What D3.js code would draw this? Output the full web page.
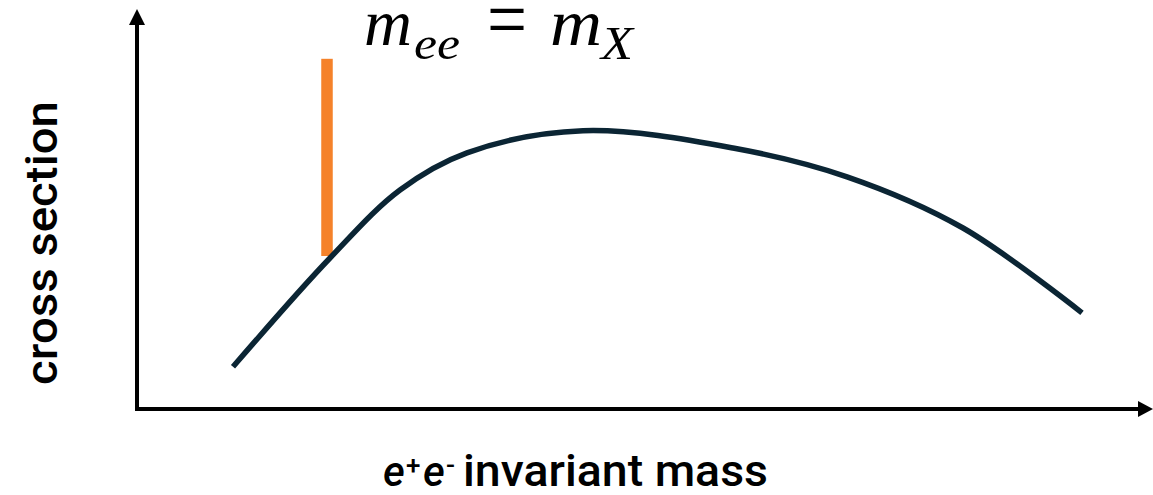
<!DOCTYPE html>
<html>
<head>
<meta charset="utf-8">
<script src="https://cdn.jsdelivr.net/npm/d3@7"></script>
<style>
  html, body { margin: 0; padding: 0; background: #ffffff; }
  svg { display: block; }
</style>
</head>
<body>
<svg id="chart" width="1153" height="495"></svg>
<script>
// Sketch of the e+e- invariant-mass spectrum with a narrow resonance at m_X.
// Mass values (arbitrary units)
const massValues = [0.97, 1.94, 2.64, 3.31, 4.47, 5.97, 7.11, 8.27, 9.46];
// Cross section at each mass (arbitrary units)
const crossSection = [1.03, 3.75, 5.45, 6.38, 6.93, 6.50, 5.78, 4.50, 2.38];
// Resonance marker: mass and the span of the peak
const resonanceMass = [1.91];
const resonanceLow = [3.80];
const resonanceHigh = [8.73];

const svg = d3.select("#chart");

const x = d3.scaleLinear().domain([0, 10]).range([136, 1136]);
const y = d3.scaleLinear().domain([0, 10]).range([408, 8]);

const axisColor = "#000000";
const curveColor = "#0b2534";
const peakColor = "#f5822a";

// Axes with arrowheads
const axisY = y(0) + 1;
svg.append("line")
  .attr("x1", x(0) + 1).attr("y1", axisY)
  .attr("x2", 1140).attr("y2", axisY)
  .attr("stroke", axisColor).attr("stroke-width", 4);
svg.append("path")
  .attr("d", `M1138,${axisY - 8} L1153,${axisY} L1138,${axisY + 8} Z`)
  .attr("fill", axisColor);

const axisX = x(0) + 1;
svg.append("line")
  .attr("x1", axisX).attr("y1", axisY + 2)
  .attr("x2", axisX).attr("y2", 22)
  .attr("stroke", axisColor).attr("stroke-width", 4);
svg.append("path")
  .attr("d", `M${axisX - 8},25 L${axisX},9 L${axisX + 8},25 Z`)
  .attr("fill", axisColor);

// Resonance bar
svg.selectAll("rect.peak")
  .data(resonanceMass)
  .join("rect")
  .attr("class", "peak")
  .attr("x", d => x(d) - 5.75)
  .attr("width", 11.5)
  .attr("y", (d, i) => y(resonanceHigh[i]))
  .attr("height", (d, i) => y(resonanceLow[i]) - y(resonanceHigh[i]))
  .attr("fill", peakColor);

// Continuum curve
const pts = massValues.map((m, i) => [m, crossSection[i]]);
const line = d3.line()
  .x(d => x(d[0]))
  .y(d => y(d[1]))
  .curve(d3.curveCatmullRom.alpha(0.5));
svg.append("path")
  .datum(pts)
  .attr("d", line)
  .attr("fill", "none")
  .attr("stroke", curveColor)
  .attr("stroke-width", 5.5)
  .attr("stroke-linecap", "butt");

// Resonance label: m_ee = m_X
const serif = "'Liberation Serif', 'Times New Roman', serif";
const lbl = svg.append("g").attr("font-family", serif).attr("fill", "#000");
lbl.append("text").attr("x", 364).attr("y", 45).attr("font-size", 66)
  .attr("font-style", "italic").attr("textLength", 48).attr("lengthAdjust", "spacingAndGlyphs").text("m");
lbl.append("text").attr("x", 414).attr("y", 59).attr("font-size", 46)
  .attr("font-style", "italic").attr("textLength", 46).attr("lengthAdjust", "spacingAndGlyphs").text("ee");
lbl.append("text").attr("x", 487).attr("y", 48).attr("font-size", 84)
  .attr("textLength", 40).attr("lengthAdjust", "spacingAndGlyphs").text("=");
lbl.append("text").attr("x", 550).attr("y", 45).attr("font-size", 66)
  .attr("font-style", "italic").attr("textLength", 52).attr("lengthAdjust", "spacingAndGlyphs").text("m");
lbl.append("text").attr("x", 601).attr("y", 59).attr("font-size", 46)
  .attr("font-style", "italic").attr("textLength", 32).attr("lengthAdjust", "spacingAndGlyphs").text("X");

// Axis titles
const sans = "Roboto, 'Liberation Sans', Arial, sans-serif";
svg.append("text")
  .attr("transform", "translate(57,243) rotate(-90)")
  .attr("text-anchor", "middle")
  .attr("font-family", sans)
  .attr("font-weight", 500)
  .attr("font-size", 44)
  .attr("textLength", 284)
  .attr("lengthAdjust", "spacingAndGlyphs")
  .attr("fill", "#000")
  .text("cross section");

const xl = svg.append("g").attr("font-family", sans).attr("font-weight", 500).attr("fill", "#000");
xl.append("text").attr("x", 383).attr("y", 486).attr("font-size", 42)
  .attr("font-style", "italic").text("e");
xl.append("text").attr("x", 406).attr("y", 474).attr("font-size", 26).text("+");
xl.append("text").attr("x", 423).attr("y", 486).attr("font-size", 42)
  .attr("font-style", "italic").text("e");
xl.append("text").attr("x", 446).attr("y", 474).attr("font-size", 26)
  .attr("textLength", 9).attr("lengthAdjust", "spacingAndGlyphs").text("-");
xl.append("text").attr("x", 463).attr("y", 486).attr("font-size", 44)
  .attr("textLength", 305).attr("lengthAdjust", "spacingAndGlyphs").text("invariant mass");
</script>
</body>
</html>
